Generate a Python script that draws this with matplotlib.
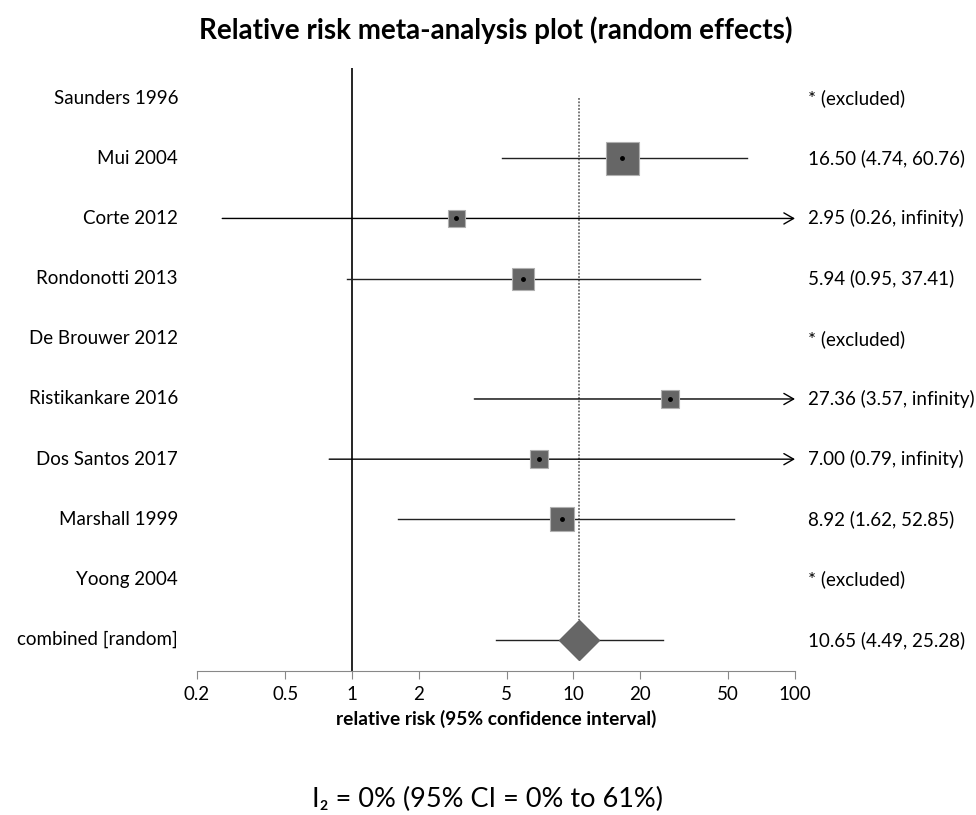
import numpy as np
import matplotlib
matplotlib.use('Agg')
from matplotlib import pyplot as plt

plt.rcParams['font.family'] = ['Lato', 'DejaVu Sans']

# study data (rr = nan means excluded)
studies = ['Saunders 1996', 'Mui 2004', 'Corte 2012', 'Rondonotti 2013',
           'De Brouwer 2012', 'Ristikankare 2016', 'Dos Santos 2017',
           'Marshall 1999', 'Yoong 2004', 'combined [random]']
rr = [np.nan, 16.50, 2.95, 5.94, np.nan, 27.36, 7.00, 8.92, np.nan, 10.65]
lower = [np.nan, 4.74, 0.26, 0.95, np.nan, 3.57, 0.79, 1.62, np.nan, 4.49]
upper = [np.nan, 60.76, np.inf, 37.41, np.nan, np.inf, np.inf, 52.85, np.nan, 25.28]
right_labels = ['* (excluded)', '16.50 (4.74, 60.76)', '2.95 (0.26, infinity)',
                '5.94 (0.95, 37.41)', '* (excluded)', '27.36 (3.57, infinity)',
                '7.00 (0.79, infinity)', '8.92 (1.62, 52.85)', '* (excluded)',
                '10.65 (4.49, 25.28)']
# box side in pixels (study weight)
box_px = [0, 33, 17, 22, 0, 18, 18, 24, 0]

ticks = [0.2, 0.5, 1, 2, 5, 10, 20, 50, 100]
tick_labels = ['0.2', '0.5', '1', '2', '5', '10', '20', '50', '100']

W, H = 976, 815
fig = plt.figure(figsize=(W / 100, H / 100), dpi=100)
ax = fig.add_axes([197 / W, 1 - 671 / H, 598 / W, (671 - 68) / H])
ax.set_xscale('log')
ax.set_xlim(0.2, 100)
ax.set_ylim(9.52, -0.5)

n = len(studies)
xmax = 100
# vertical line at 1
ax.axvline(1, color='black', lw=1.2, zorder=1)
# dotted line at pooled estimate
ax.plot([rr[-1], rr[-1]], [0, n - 1 - 0.33], ls=(0, (1.2, 1.0)), color='#555555', lw=1.1, zorder=1)

for i in range(n - 1):
    if np.isnan(rr[i]):
        continue
    if np.isinf(upper[i]):
        ax.annotate('', xy=(xmax, i), xytext=(lower[i], i),
                    arrowprops=dict(arrowstyle='->,head_length=0.7,head_width=0.4',
                                    lw=1, color='black', shrinkA=0, shrinkB=0))
    else:
        ax.plot([lower[i], upper[i]], [i, i], color='#222222', lw=1, zorder=2)
    ax.plot(rr[i], i, marker='s', ms=box_px[i] * 0.72, color='#666666',
            mec='#b0b0b0', mew=0.8, zorder=3)
    ax.plot(rr[i], i, marker='o', ms=2.5, color='black', zorder=4)

# combined row
c = n - 1
ax.plot([lower[c], upper[c]], [c, c], color='#222222', lw=1, zorder=2)
ax.plot(rr[c], c, marker='D', ms=28 * 0.72, color='#666666', mec='#666666', zorder=3)

for i in range(n):
    ax.text(-(197 - 178) / 598, i, studies[i], transform=ax.get_yaxis_transform(),
            ha='right', va='center', fontsize=13.5)
    ax.text(1.0217, i, right_labels[i], transform=ax.get_yaxis_transform(),
            ha='left', va='center', fontsize=13.5)

for s in ['top', 'left', 'right']:
    ax.spines[s].set_visible(False)
ax.spines['bottom'].set_color('#888888')
ax.set_yticks([])
ax.set_xticks(ticks)
ax.set_xticklabels(tick_labels, fontsize=13.5)
ax.minorticks_off()
ax.tick_params(axis='x', direction='out', length=6, color='#888888', pad=4.5)
ax.set_xlabel('relative risk (95% confidence interval)', fontsize=13.8, fontweight='bold', labelpad=5.5)

fig.text(496 / W, 1 - 30 / H, 'Relative risk meta-analysis plot (random effects)',
         ha='center', va='center', fontsize=20, fontweight='bold')
fig.text(488 / W, 1 - 799 / H, 'I₂ = 0% (95% CI = 0% to 61%)',
         ha='center', va='center', fontsize=19.5)

plt.savefig('out.png', dpi=100)
